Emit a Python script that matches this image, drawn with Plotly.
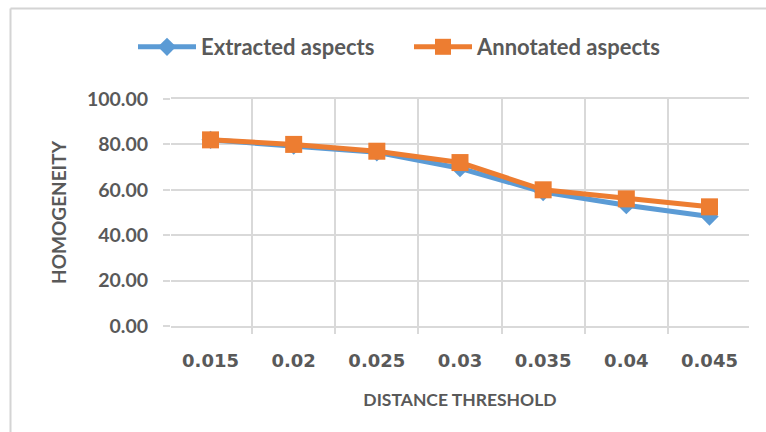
import plotly.graph_objects as go

# Distance thresholds (category labels) and homogeneity scores
thresholds = ["0.015", "0.02", "0.025", "0.03", "0.035", "0.04", "0.045"]
extracted = [82.0, 79.5, 76.5, 69.5, 59.0, 53.2, 48.2]
annotated = [82.0, 80.0, 77.0, 72.0, 60.0, 56.0, 52.5]

W, H = 766, 432
ML, MR, MT, MB = 171, 17, 99, 106
PW, PH = W - ML - MR, H - MT - MB

TEXT = "#595959"
GRID = "#D9D9D9"
FONT = "Lato"

fig = go.Figure()
fig.add_trace(go.Scatter(
    x=thresholds, y=extracted, name="Extracted aspects", mode="lines+markers",
    line=dict(color="#5B9BD5", width=5),
    marker=dict(symbol="diamond", size=14, color="#5B9BD5"),
))
fig.add_trace(go.Scatter(
    x=thresholds, y=annotated, name="Annotated aspects", mode="lines+markers",
    line=dict(color="#ED7D31", width=5),
    marker=dict(symbol="square", size=17, color="#ED7D31"),
))

def px_x(px):
    return (px - ML) / PW

def px_y(py):
    return (H - MB - py) / PH

# light outer frame (left and top edges visible)
fig.add_shape(type="line", xref="paper", yref="paper",
              x0=px_x(10.5), x1=px_x(10.5), y0=px_y(8.5), y1=px_y(440),
              line=dict(color="#D4D4D4", width=2))
fig.add_shape(type="line", xref="paper", yref="paper",
              x0=px_x(10.5), x1=px_x(780), y0=px_y(8.5), y1=px_y(8.5),
              line=dict(color="#D4D4D4", width=2))

fig.update_layout(
    width=W, height=H,
    margin=dict(l=ML, r=MR, t=MT, b=MB, autoexpand=False),
    paper_bgcolor="white", plot_bgcolor="white",
    font=dict(family=FONT, color=TEXT, size=16),
    showlegend=True,
    legend=dict(
        orientation="h", x=px_x(133), xanchor="left", y=px_y(47), yanchor="middle",
        font=dict(family=FONT, size=22, color=TEXT, weight="bold"),
        itemwidth=58, entrywidth=203, tracegroupgap=0, bgcolor="rgba(0,0,0,0)",
    ),
    xaxis=dict(
        type="category", tickson="boundaries", showgrid=True, gridcolor=GRID, gridwidth=1.5,
        ticks="outside", ticklen=6, tickcolor=GRID, tickwidth=1.5,
        showline=True, linecolor=GRID, linewidth=1.5, mirror=True,
        ticklabelstandoff=18,
        tickfont=dict(family="DejaVu Sans", size=18, color=TEXT, weight="bold"),
        title=dict(text="DISTANCE THRESHOLD", standoff=23,
                   font=dict(family=FONT, size=17.5, color=TEXT, weight="bold")),
        fixedrange=True,
    ),
    yaxis=dict(
        range=[0, 100], dtick=20, tickformat=".2f", showgrid=True, gridcolor=GRID, gridwidth=1.5,
        ticks="outside", ticklen=7, tickcolor=GRID, tickwidth=1.5,
        zeroline=False, showline=False, ticklabelstandoff=11,
        tickfont=dict(family=FONT, size=19.5, color=TEXT, weight="bold"),
        title=dict(text="HOMOGENEITY", standoff=15,
                   font=dict(family=FONT, size=19, color=TEXT, weight="bold")),
        fixedrange=True,
    ),
)

fig.write_html("out.html")
